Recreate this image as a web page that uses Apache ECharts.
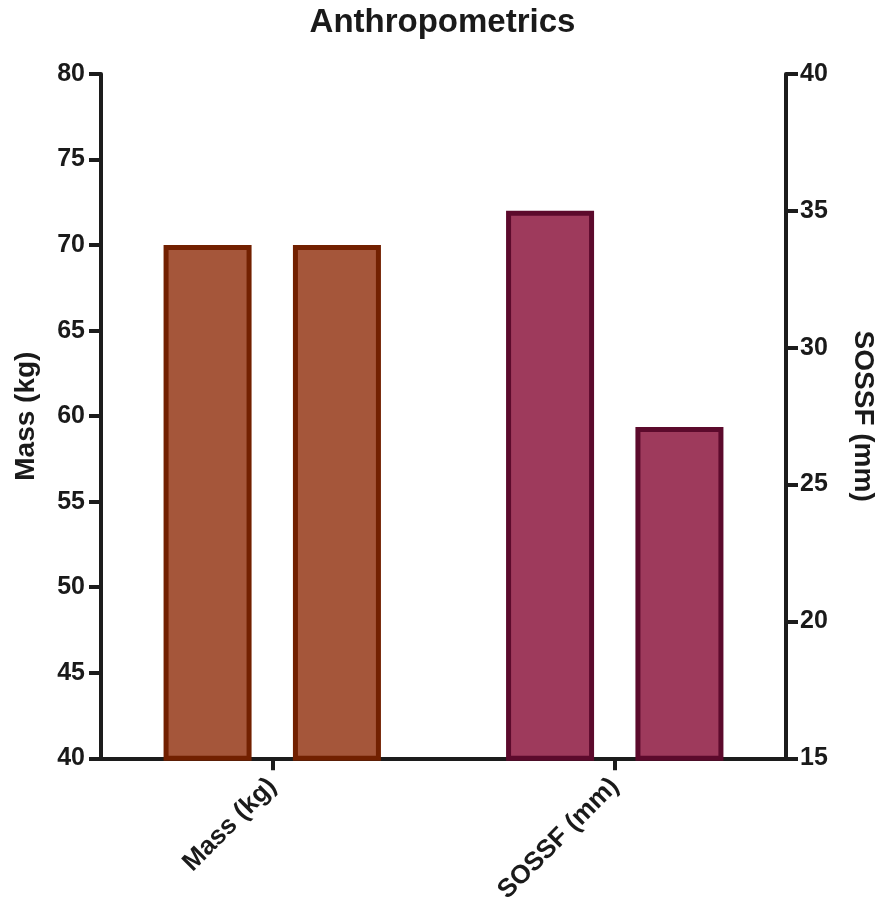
<!DOCTYPE html>
<html>
<head>
<meta charset="utf-8">
<script src="https://cdn.jsdelivr.net/npm/echarts@6/dist/echarts.min.js"></script>
<style>html,body{margin:0;padding:0;background:#fff}#c{width:885px;height:906px}</style>
</head>
<body>
<div id="c"></div>
<script>
const titleText = 'Anthropometrics';
const categories = ['Mass (kg)', 'SOSSF (mm)'];
const massValues = [70, 70];       // two bars, left axis
const sossfValues = [35, 27.1];    // two bars, right axis
const leftAxisName = 'Mass (kg)';
const rightAxisName = 'SOSSF (mm)';

const FONT = 'Liberation Sans, Arial, sans-serif';
const AX = '#1c1c1c';
const BROWN = '#A5563A', BROWN_B = '#722000';
const PLUM = '#9E3A5C', PLUM_B = '#5C0A2C';

const chart = echarts.init(document.getElementById('c'), null, {renderer: 'canvas'});

const axisLineStyle = {show: true, lineStyle: {color: AX, width: 4}};
const tickStyle = {show: true, length: 12, lineStyle: {color: AX, width: 4}};
const labelStyle = {color: '#1a1a1a', fontFamily: FONT, fontWeight: 'bold', fontSize: 25};

function barSeries(val, catIdx, axisIdx, fill, border) {
  const d = categories.map((c, i) => i === catIdx ? val : '-');
  return {
    type: 'bar', xAxisIndex: axisIdx, yAxisIndex: axisIdx, data: d,
    barWidth: 88, barGap: '47%',
    itemStyle: {color: fill, borderColor: border, borderWidth: 5},
    animation: false
  };
}

chart.setOption({
  animation: false,
  title: {
    text: titleText, left: 'center', top: 1,
    textStyle: {fontFamily: FONT, fontWeight: 'bold', fontSize: 33, color: '#1a1a1a'}
  },
  grid: {left: 101, right: 97, top: 74, bottom: 146, containLabel: false},
  xAxis: [
    {
      type: 'category', data: categories, position: 'bottom',
      axisLine: axisLineStyle,
      axisTick: Object.assign({alignWithLabel: true}, tickStyle),
      axisLabel: Object.assign({rotate: 45, margin: 24, interval: 0}, labelStyle, {fontSize: 26}),
      splitLine: {show: false}
    },
    {
      type: 'category', data: categories, position: 'bottom', show: false
    }
  ],
  yAxis: [
    {
      type: 'value', position: 'left', min: 40, max: 80, interval: 5,
      axisLine: axisLineStyle, axisTick: tickStyle,
      axisLabel: Object.assign({margin: 16}, labelStyle),
      splitLine: {show: false},
      name: leftAxisName, nameLocation: 'middle', nameGap: 61, nameRotate: 90,
      nameTextStyle: {fontFamily: FONT, fontWeight: 'bold', fontSize: 28, color: '#1a1a1a'}
    },
    {
      type: 'value', position: 'right', min: 15, max: 40, interval: 5,
      axisLine: axisLineStyle, axisTick: tickStyle,
      axisLabel: Object.assign({margin: 14}, labelStyle),
      splitLine: {show: false},
      name: rightAxisName, nameLocation: 'middle', nameGap: 63, nameRotate: -90,
      nameTextStyle: {fontFamily: FONT, fontWeight: 'bold', fontSize: 28, color: '#1a1a1a'}
    }
  ],
  series: [
    barSeries(massValues[0], 0, 0, BROWN, BROWN_B),
    barSeries(massValues[1], 0, 0, BROWN, BROWN_B),
    barSeries(sossfValues[0], 1, 1, PLUM, PLUM_B),
    barSeries(sossfValues[1], 1, 1, PLUM, PLUM_B)
  ]
});
</script>
</body>
</html>
